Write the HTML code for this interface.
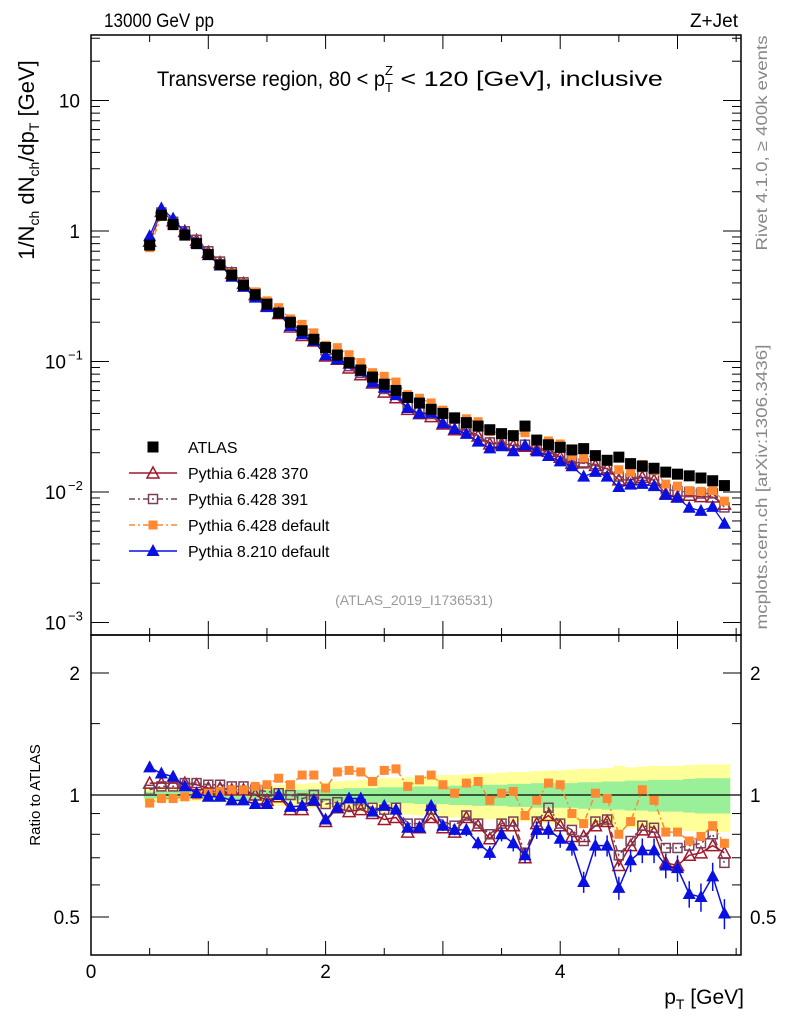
<!DOCTYPE html>
<html><head><meta charset="utf-8"><style>
body{margin:0;background:#fff;}
svg{display:block;font-family:"Liberation Sans",sans-serif;}
</style></head><body>
<svg id="c" width="786" height="1024" viewBox="0 0 786 1024" xmlns="http://www.w3.org/2000/svg">
<rect x="0" y="0" width="786" height="1024" fill="#fff"/>
<g id="bands"></g><g id="grid"></g><g id="series"></g>
<text x="104" y="27" font-size="19" textLength="110" lengthAdjust="spacingAndGlyphs">13000 GeV pp</text>
<text x="738" y="27" font-size="19" text-anchor="end">Z+Jet</text>
<text x="157" y="86" font-size="21"><tspan textLength="228" lengthAdjust="spacingAndGlyphs">Transverse region, 80 &lt; p</tspan><tspan font-size="13" dy="6">T</tspan><tspan font-size="13" dx="-8" dy="-17">Z</tspan><tspan dy="11" textLength="270" lengthAdjust="spacingAndGlyphs"> &lt; 120 [GeV], inclusive</tspan></text>
<text x="414" y="605" font-size="14" fill="#999" text-anchor="middle">(ATLAS_2019_I1736531)</text>
<text transform="translate(767,143) rotate(-90)" font-size="16" fill="#888" text-anchor="middle" textLength="215" lengthAdjust="spacingAndGlyphs">Rivet 4.1.0, ≥ 400k events</text>
<text transform="translate(767,487) rotate(-90)" font-size="16" fill="#888" text-anchor="middle" textLength="285" lengthAdjust="spacingAndGlyphs">mcplots.cern.ch [arXiv:1306.3436]</text>
<text transform="translate(34,160) rotate(-90)" font-size="22" text-anchor="middle">1/N<tspan font-size="14" dy="5">ch</tspan><tspan dy="-5"> dN</tspan><tspan font-size="14" dy="5">ch</tspan><tspan dy="-5">/dp</tspan><tspan font-size="14" dy="5">T</tspan><tspan dy="-5"> [GeV]</tspan></text>
<text transform="translate(40,795) rotate(-90)" font-size="15" text-anchor="middle">Ratio to ATLAS</text>
<text x="744" y="1004" font-size="21" text-anchor="end">p<tspan font-size="14" dy="5">T</tspan><tspan dy="-5"> [GeV]</tspan></text>
<g id="legend"></g>
</svg>
<script>
const xs=[0.5,0.6,0.7,0.8,0.9,1.0,1.1,1.2,1.3,1.4,1.5,1.6,1.7,1.8,1.9,2.0,2.1,2.2,2.3,2.4,2.5,2.6,2.7,2.8,2.9,3.0,3.1,3.2,3.3,3.4,3.5,3.6,3.7,3.8,3.9,4.0,4.1,4.2,4.3,4.4,4.5,4.6,4.7,4.8,4.9,5.0,5.1,5.2,5.3,5.4];
const atlas=[0.78,1.32,1.12,0.93,0.80,0.66,0.55,0.46,0.385,0.325,0.275,0.235,0.20,0.172,0.148,0.128,0.112,0.098,0.086,0.076,0.067,0.060,0.053,0.048,0.043,0.040,0.037,0.034,0.032,0.030,0.028,0.027,0.032,0.025,0.023,0.022,0.021,0.0215,0.019,0.0175,0.0185,0.0165,0.0158,0.0152,0.0142,0.0137,0.0133,0.0128,0.0122,0.0112];
const r370=[1.07,1.07,1.07,1.07,1.06,1.04,1.04,1.03,1.03,1.0,0.97,0.99,0.92,0.92,0.97,0.86,0.93,0.91,0.92,0.90,0.87,0.88,0.81,0.83,0.88,0.83,0.81,0.88,0.84,0.78,0.84,0.84,0.70,0.85,0.89,0.84,0.79,0.79,0.84,0.86,0.67,0.75,0.82,0.81,0.68,0.67,0.71,0.72,0.75,0.72];
const r391=[1.03,1.05,1.05,1.07,1.07,1.06,1.06,1.05,1.05,1.03,1.02,1.01,1.0,0.98,1.0,0.95,0.96,0.94,0.95,0.93,0.92,0.93,0.85,0.85,0.92,0.86,0.84,0.89,0.85,0.80,0.85,0.86,0.72,0.86,0.93,0.85,0.82,0.77,0.86,0.87,0.71,0.77,0.84,0.83,0.74,0.74,0.75,0.76,0.80,0.68];
const r6def=[0.955,0.98,0.98,0.99,1.0,1.01,1.02,1.03,1.03,1.05,1.06,1.10,1.06,1.12,1.12,1.04,1.14,1.15,1.14,1.08,1.15,1.16,1.05,1.09,1.12,1.06,1.01,1.07,1.08,0.97,1.01,1.02,0.89,0.97,1.07,1.06,0.90,0.85,1.01,0.98,0.80,0.86,1.03,0.97,0.81,0.81,0.77,0.79,0.84,0.76];
const r8def=[1.17,1.13,1.11,1.05,1.01,0.99,0.99,0.97,0.97,0.95,0.95,1.0,0.935,0.94,0.97,0.87,0.93,0.98,0.98,0.91,0.94,0.92,0.83,0.83,0.94,0.84,0.82,0.82,0.76,0.72,0.80,0.76,0.71,0.82,0.82,0.78,0.75,0.61,0.75,0.75,0.59,0.69,0.73,0.73,0.67,0.66,0.57,0.56,0.63,0.51];
const errBlue=[0.01,0.01,0.01,0.01,0.01,0.01,0.01,0.01,0.01,0.01,0.01,0.01,0.012,0.012,0.012,0.015,0.015,0.015,0.02,0.02,0.02,0.02,0.025,0.025,0.03,0.03,0.03,0.035,0.035,0.04,0.04,0.045,0.045,0.05,0.05,0.05,0.055,0.06,0.06,0.06,0.065,0.065,0.07,0.07,0.07,0.075,0.075,0.08,0.08,0.085];
const bandGreen=[0.02,0.02,0.02,0.02,0.02,0.02,0.02,0.025,0.025,0.025,0.03,0.03,0.03,0.03,0.035,0.035,0.035,0.04,0.04,0.04,0.045,0.045,0.045,0.05,0.05,0.05,0.055,0.055,0.06,0.06,0.06,0.065,0.065,0.07,0.07,0.07,0.07,0.075,0.075,0.08,0.08,0.085,0.085,0.09,0.09,0.09,0.095,0.1,0.1,0.1];
const bandYellow=[0.04,0.04,0.035,0.035,0.035,0.04,0.04,0.045,0.05,0.05,0.055,0.06,0.06,0.065,0.07,0.075,0.08,0.085,0.09,0.095,0.1,0.1,0.105,0.11,0.115,0.12,0.12,0.125,0.13,0.13,0.135,0.14,0.14,0.145,0.15,0.15,0.155,0.16,0.16,0.165,0.18,0.17,0.175,0.18,0.18,0.18,0.185,0.19,0.19,0.19];
const xTicks=[0,2,4];
const NS="http://www.w3.org/2000/svg";
const L=91,R=741,T=35,MB=635,RB=955;
const X=v=>L+117.3*v;
const Y=v=>231-130.5*Math.log10(v);
const YR=v=>795-122*Math.log2(v);
function el(tag,attrs,parent){const e=document.createElementNS(NS,tag);for(const k in attrs)e.setAttribute(k,attrs[k]);parent.appendChild(e);return e;}
const svg=document.getElementById('c'),gB=document.getElementById('bands'),gG=document.getElementById('grid'),gS=document.getElementById('series'),gL=document.getElementById('legend');
function bandPath(w){let up='',lo='';const hw=5.87;
 xs.forEach((x,i)=>{up+=(i?'L':'M')+(X(x)-hw)+','+YR(1+w[i])+'L'+(X(x)+hw)+','+YR(1+w[i]);});
 for(let i=xs.length-1;i>=0;i--){lo+='L'+(X(xs[i])+hw)+','+YR(1-w[i])+'L'+(X(xs[i])-hw)+','+YR(1-w[i]);}
 return up+lo+'Z';}
let p=el('path',{d:bandPath(bandYellow),fill:'#ffff99'},gB);


p=el('path',{d:bandPath(bandGreen),fill:'#99f099'},gB);


let f=el('rect',{x:L,y:T,width:R-L,height:MB-T,fill:'none',stroke:'#000','stroke-width':1.5},gG);


f=el('rect',{x:L,y:MB,width:R-L,height:RB-MB,fill:'none',stroke:'#000','stroke-width':1.5},gG);


let ln=el('line',{x1:L,x2:R,y1:YR(1),y2:YR(1),stroke:'#000','stroke-width':1.3},gG);


for(let v=0;v<=5.6;v+=0.5){const x=X(v);const big=Math.abs(v-Math.round(v))<1e-6;const h=big?14:7;
 [[T,1],[MB,-1],[MB,1],[RB,-1]].forEach(([y,d])=>el('line',{x1:x,x2:x,y1:y,y2:y+d*h,stroke:'#000'},gG));}
xTicks.forEach(v=>{const t=el('text',{x:X(v),y:978,'font-size':19,'text-anchor':'middle'},gG);t.textContent=v;
 
 });
for(let d=-3;d<=1;d++){for(let m=1;m<10;m++){const v=m*Math.pow(10,d);const y=Y(v);if(y<T||y>MB)continue;const h=m==1?18:9;
 el('line',{x1:L,x2:L+h,y1:y,y2:y,stroke:'#000'},gG);el('line',{x1:R,x2:R-h,y1:y,y2:y,stroke:'#000'},gG);}}
[[10,'10'],[1,'1'],[0.1,'10'],[0.01,'10'],[0.001,'10']].forEach(([v,s],i)=>{const t=el('text',{x:i<2?80:66,y:Y(v)+7,'font-size':19,'text-anchor':'end'},gG);t.textContent=s;
 
 
 if(i>=2){const e=el('text',{x:68,y:Y(v)-2,'font-size':13},gG);e.textContent='−'+(i-1);}});
[0.5,0.6,0.7,0.8,0.9,1,1.5,2].forEach(v=>{const y=YR(v);const h=(v==0.5||v==1||v==2)?18:9;
 el('line',{x1:L,x2:L+h,y1:y,y2:y,stroke:'#000'},gG);el('line',{x1:R,x2:R-h,y1:y,y2:y,stroke:'#000'},gG);});
[0.5,1,2].forEach(v=>{[[80,'end'],[750,'start']].forEach(([x,a])=>{const t=el('text',{x:x,y:YR(v)+7,'font-size':19,'text-anchor':a},gG);t.textContent=v;
 
 });});
function marker(type,x,y,col,g){const s=5.5;
 if(type=='sq')return el('rect',{x:x-s,y:y-s,width:2*s,height:2*s,fill:col},g);
 if(type=='osq')return el('rect',{x:x-s+1,y:y-s+1,width:2*s-2,height:2*s-2,fill:'none',stroke:col,'stroke-width':1.5},g);
 if(type=='fsq')return el('rect',{x:x-4.5,y:y-4.5,width:9,height:9,fill:col},g);
 if(type=='tri')return el('path',{d:`M${x},${y-7}L${x+6.5},${y+5}L${x-6.5},${y+5}Z`,fill:col},g);
 if(type=='otri')return el('path',{d:`M${x},${y-6}L${x+6},${y+5}L${x-6},${y+5}Z`,fill:'none',stroke:col,'stroke-width':1.5},g);}
const series=[
 {name:'pythia-6428-370',r:r370,col:'#a0182a',m:'otri',dash:''},
 {name:'pythia-6428-391',r:r391,col:'#7a4059',m:'osq',dash:'6,3,2,3'},
 {name:'pythia-6428-default',r:r6def,col:'#ff8833',m:'fsq',dash:'6,3,2,3'},
 {name:'pythia-8210-default',r:r8def,col:'#0a10e0',m:'tri',dash:''}];
series.forEach(s=>{
 const g=el('g',{},gS);
 
 
 let d1='',d2='';
 xs.forEach((x,i)=>{d1+=(i?'L':'M')+X(x)+','+Y(atlas[i]*s.r[i]);d2+=(i?'L':'M')+X(x)+','+YR(s.r[i]);});
 el('path',{d:d1,fill:'none',stroke:s.col,'stroke-width':1.3,'stroke-dasharray':s.dash},g);
 el('path',{d:d2,fill:'none',stroke:s.col,'stroke-width':1.5,'stroke-dasharray':s.dash},g);
 xs.forEach((x,i)=>{
  const m1=marker(s.m,X(x),Y(atlas[i]*s.r[i]),s.col,g);
  
  
  if(s.m=='tri'){const e=errBlue[i]*s.r[i];el('line',{x1:X(x),x2:X(x),y1:YR(s.r[i]+e),y2:YR(s.r[i]-e),stroke:s.col,'stroke-width':1.5},g);}
  const m2=marker(s.m,X(x),YR(s.r[i]),s.col,g);
  
  });
});
const ga=el('g',{},gS);


xs.forEach((x,i)=>{const m=marker('sq',X(x),Y(atlas[i]),'#000',ga);
 
 });
const leg=[['ATLAS','sq','#000','none',''],['Pythia 6.428 370','otri','#a0182a','#a0182a',''],['Pythia 6.428 391','osq','#7a4059','#7a4059','6,3,2,3'],['Pythia 6.428 default','fsq','#ff8833','#ff8833','6,3,2,3'],['Pythia 8.210 default','tri','#0a10e0','#0a10e0','']];
leg.forEach((l,i)=>{const y=447+26*i;const g=el('g',{},gL);
 
 
 if(l[3]!='none')el('line',{x1:129,x2:177,y1:y,y2:y,stroke:l[3],'stroke-width':1.5,'stroke-dasharray':l[4]},g);
 marker(l[1],153,y,l[2],g);
 const t=el('text',{x:188,y:y+6,'font-size':16},g);t.textContent=l[0];});
</script>
</body></html>
